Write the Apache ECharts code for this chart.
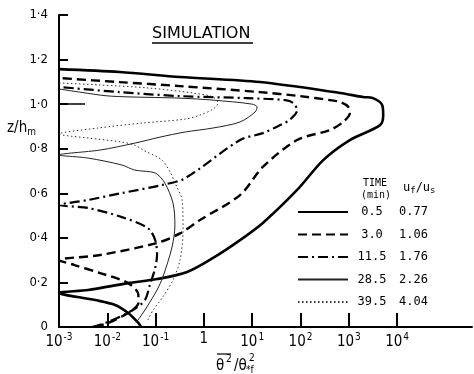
<!DOCTYPE html>
<html>
<head>
<meta charset="utf-8">
<script src="https://cdn.jsdelivr.net/npm/echarts@6.0.0/dist/echarts.min.js"></script>
<style>
html,body{margin:0;padding:0;background:#fff;}
#chart{width:474px;height:374px;}
</style>
</head>
<body>
<div id="chart"></div>
<script>
// legend table
var times = ['0.5', '3.0', '11.5', '28.5', '39.5'];
var ratios = ['0.77', '1.06', '1.76', '2.26', '4.04'];
// tick labels (x axis is in decades)
var xExponents = [-3, -2, -1, 0, 1, 2, 3, 4];
var yTicks = [0, 0.2, 0.4, 0.6, 0.8, 1.0, 1.2, 1.4];

// profiles: z/hm and theta^2/theta*f^2
var z05 = [0, 0.018, 0.063, 0.099, 0.121, 0.153, 0.166, 0.197, 0.215, 0.247, 0.31, 0.39, 0.467, 0.615, 0.749, 0.839, 0.906, 0.951, 0.996, 1.027, 1.032, 1.05, 1.099, 1.122, 1.144, 1.157];
var t05 = [0.05, 0.044, 0.027, 0.0145, 0.0056, 0.001, 0.004, 0.027, 0.107, 0.45, 1.55, 5.6, 16.6, 85, 295, 1050, 4430, 5150, 4900, 3170, 1960, 660, 14.5, 0.32, 0.018, 0.001];

var z30 = [0, 0.022, 0.063, 0.085, 0.108, 0.144, 0.197, 0.242, 0.278, 0.30, 0.323, 0.377, 0.42, 0.48, 0.592, 0.718, 0.839, 0.884, 0.92, 0.96, 0.99, 1.01, 1.018, 1.036, 1.054, 1.081, 1.099, 1.117];
var t30 = [0.0056, 0.0115, 0.027, 0.037, 0.044, 0.044, 0.027, 0.0071, 0.0021, 0.001, 0.0071, 0.107, 0.32, 0.83, 5.6, 16.6, 85, 407, 760, 1050, 955, 660, 407, 98, 14.5, 0.32, 0.018, 0.001];

var z115 = [0, 0.022, 0.076, 0.121, 0.188, 0.265, 0.323, 0.39, 0.444, 0.493, 0.534, 0.547, 0.570, 0.601, 0.637, 0.668, 0.839, 0.870, 0.906, 0.93, 0.973, 1.005, 1.018, 1.027, 1.036, 1.054, 1.077];
var t115 = [0.0048, 0.0102, 0.034, 0.060, 0.076, 0.098, 0.107, 0.098, 0.069, 0.020, 0.004, 0.001, 0.004, 0.020, 0.135, 0.41, 5.6, 16.6, 38, 60, 85, 71, 48, 7.8, 0.32, 0.018, 0.001];

var z285 = [0.022, 0.045, 0.090, 0.166, 0.224, 0.359, 0.458, 0.556, 0.646, 0.691, 0.704, 0.727, 0.758, 0.772, 0.794, 0.825, 0.852, 0.875, 0.893, 0.920, 0.965, 0.987, 1.0, 1.018, 1.027, 1.036, 1.054, 1.068];
var t285 = [0.040, 0.048, 0.066, 0.107, 0.141, 0.219, 0.251, 0.229, 0.155, 0.098, 0.037, 0.020, 0.004, 0.001, 0.0071, 0.037, 0.123, 0.41, 1.55, 5.6, 11.5, 12.6, 10, 1.55, 0.32, 0.0115, 0.0027, 0.001];

var z395 = [0.031, 0.076, 0.135, 0.211, 0.30, 0.435, 0.57, 0.628, 0.695, 0.749, 0.794, 0.816, 0.83, 0.848, 0.866, 0.893, 0.915, 0.933, 0.951, 0.978, 1.005, 1.032, 1.05, 1.072, 1.086, 1.095];
var t395 = [0.069, 0.089, 0.141, 0.229, 0.32, 0.37, 0.355, 0.275, 0.20, 0.135, 0.055, 0.037, 0.020, 0.004, 0.001, 0.0065, 0.052, 0.41, 0.83, 1.55, 1.95, 1.55, 0.59, 0.076, 0.0071, 0.001];

function toPoints(t, z) {
    return t.map(function (v, i) { return [Math.log10(v), z[i]]; });
}

function makeSeries(name, t, z, lineStyle) {
    return {
        name: name,
        type: 'line',
        data: toPoints(t, z),
        symbol: 'none',
        smooth: 0.3,
        clip: true,
        silent: true,
        itemStyle: {color: '#000'},
        lineStyle: lineStyle
    };
}

var monoFont = 'DejaVu Sans Mono';
var labelFont = 'DejaVu Sans Condensed';

var option = {
    animation: false,
    backgroundColor: '#fff',
    grid: {left: 59, right: 2, top: 15, bottom: 47},
    xAxis: {
        type: 'value',
        min: -3,
        max: 5.55,
        splitLine: {show: false},
        axisLine: {onZero: false, lineStyle: {color: '#000', width: 2}},
        axisTick: {
            inside: true,
            length: 14,
            customValues: xExponents.slice(1),
            lineStyle: {color: '#000', width: 2}
        },
        axisLabel: {
            customValues: xExponents,
            margin: 5,
            color: '#000',
            fontFamily: labelFont,
            fontSize: 15,
            formatter: function (v) {
                if (v === 0) return '{b|1}';
                return '{b|10}{s|' + v + '}';
            },
            rich: {
                b: {fontFamily: labelFont, fontSize: 15, color: '#000'},
                s: {fontFamily: labelFont, fontSize: 10, color: '#000', padding: [0, 0, 10, 1]}
            }
        }
    },
    yAxis: [{
        type: 'value',
        min: 0,
        max: 1.4,
        interval: 0.2,
        splitLine: {show: false},
        axisLine: {show: true, onZero: false, lineStyle: {color: '#000', width: 2}},
        axisTick: {inside: true, length: 9, lineStyle: {color: '#000', width: 2}},
        axisLabel: {
            margin: 11,
            color: '#000',
            fontFamily: labelFont,
            fontSize: 13,
            formatter: function (v) {
                return v === 0 ? '0' : v.toFixed(1).replace('.', '·');
            }
        }
    }, {
        // the long tick at z/hm = 1
        type: 'value',
        position: 'left',
        min: 0,
        max: 1.4,
        splitLine: {show: false},
        axisLine: {show: false, onZero: false},
        axisLabel: {show: false},
        axisTick: {inside: true, length: 26, customValues: [1.0], lineStyle: {color: '#000', width: 1.5}}
    }],
    legend: {
        orient: 'vertical',
        left: 292,
        top: 201,
        itemWidth: 50,
        itemHeight: 12,
        itemGap: 10.5,
        data: times,
        selectedMode: false,
        itemStyle: {opacity: 0},
        formatter: function (name) {
            var i = times.indexOf(name);
            return '{t|' + name + '}{u|' + ratios[i] + '}';
        },
        textStyle: {
            color: '#000',
            fontFamily: monoFont,
            fontSize: 12,
            rich: {
                t: {width: 38, align: 'right', fontFamily: monoFont, fontSize: 12, color: '#000', lineHeight: 14},
                u: {padding: [0, 0, 0, 8], fontFamily: monoFont, fontSize: 12, color: '#000', lineHeight: 14}
            }
        }
    },
    series: [
        makeSeries(times[0], t05, z05, {color: '#000', width: 2.6, type: 'solid'}),
        makeSeries(times[1], t30, z30, {color: '#000', width: 2.4, type: [9, 5]}),
        makeSeries(times[2], t115, z115, {color: '#000', width: 2.2, type: [10, 4, 2, 4]}),
        makeSeries(times[3], t285, z285, {color: '#222', width: 1, type: 'solid'}),
        makeSeries(times[4], t395, z395, {color: '#333', width: 1, type: [1.5, 2.5]})
    ],
    graphic: [
        {type: 'text', left: 152, top: 26, style: {text: 'SIMULATION', font: '16px DejaVu Sans', fill: '#000'}},
        {type: 'line', shape: {x1: 152, y1: 43, x2: 253, y2: 43}, style: {stroke: '#000', lineWidth: 1.5}},
        {type: 'text', x: 7, y: 128, style: {
            text: 'z/h{m|m}', font: '15px DejaVu Sans Condensed', fill: '#000', verticalAlign: 'middle',
            rich: {m: {fontSize: 10, fontFamily: labelFont, padding: [8, 0, 0, 0]}}
        }},
        // x axis name
        {type: 'text', x: 216, y: 366, style: {text: 'θ', font: '15px DejaVu Sans Condensed', fill: '#000', verticalAlign: 'middle'}},
        {type: 'line', shape: {x1: 217, y1: 354, x2: 231, y2: 354}, style: {stroke: '#000', lineWidth: 1.2}},
        {type: 'text', x: 226, y: 359, style: {text: '2', font: '10px DejaVu Sans Condensed', fill: '#000', verticalAlign: 'middle'}},
        {type: 'text', x: 234, y: 366, style: {text: '/θ', font: '15px DejaVu Sans Condensed', fill: '#000', verticalAlign: 'middle'}},
        {type: 'text', x: 249, y: 358, style: {text: '2', font: '10px DejaVu Sans Condensed', fill: '#000', verticalAlign: 'middle'}},
        {type: 'text', x: 246, y: 370, style: {text: '*f', font: '10px DejaVu Sans Condensed', fill: '#000', verticalAlign: 'middle'}},
        // legend header
        {type: 'text', x: 363, y: 183, style: {text: 'TIME', font: '10px ' + monoFont, fill: '#000', verticalAlign: 'middle'}},
        {type: 'text', x: 361, y: 195, style: {text: '(min)', font: '10px ' + monoFont, fill: '#000', verticalAlign: 'middle'}},
        {type: 'text', x: 403, y: 188, style: {
            text: 'u{s|f}/u{s|s}', font: '12px ' + monoFont, fill: '#000', verticalAlign: 'middle',
            rich: {s: {fontSize: 9, fontFamily: monoFont, padding: [6, 0, 0, 0]}}
        }}
    ]
};

var myChart = echarts.init(document.getElementById('chart'));
myChart.setOption(option);
</script>
</body>
</html>
